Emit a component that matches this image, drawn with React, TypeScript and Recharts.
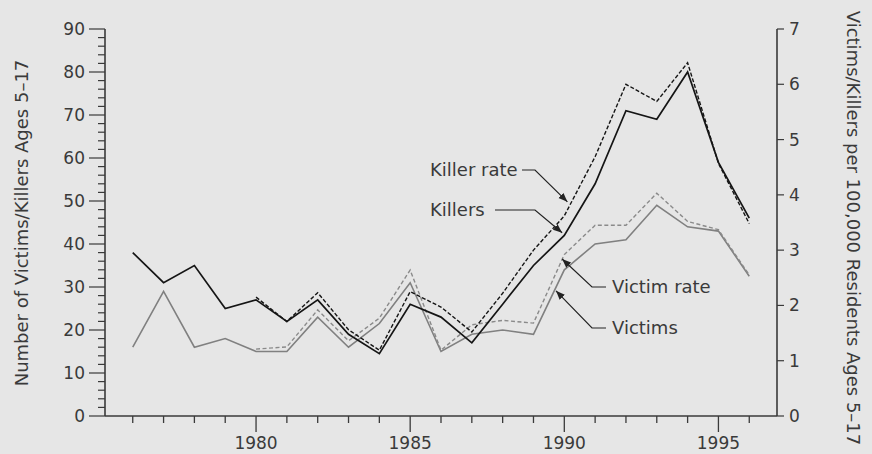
import { LineChart, Line, XAxis, YAxis } from 'recharts';

const years = [
  1976, 1977, 1978, 1979, 1980, 1981, 1982, 1983, 1984, 1985, 1986,
  1987, 1988, 1989, 1990, 1991, 1992, 1993, 1994, 1995, 1996,
];

// counts, left axis
const killers = [38, 31, 35, 25, 27, 22, 27, 19, 14.5, 26, 23, 17, 26, 35, 42, 54, 71, 69, 80, 59, 46];
const victims = [16, 29, 16, 18, 15, 15, 23, 16, 21.5, 31, 15, 19, 20, 19, 34, 40, 41, 49, 44, 43, 32.5];

// rates per 100,000, right axis (series begin in 1980)
const killerRate = [null, null, null, null, 2.15, 1.71, 2.23, 1.56, 1.19, 2.25, 1.97, 1.52, 2.22, 3.0, 3.62, 4.69, 6.0, 5.69, 6.39, 4.57, 3.48];
const victimRate = [null, null, null, null, 1.21, 1.25, 1.92, 1.36, 1.77, 2.64, 1.19, 1.65, 1.73, 1.68, 2.92, 3.45, 3.45, 4.03, 3.52, 3.37, 2.55];

const countTicks = Array.from({ length: 46 }, (_, i) => i * 2);
const rateTicks = [0, 1, 2, 3, 4, 5, 6, 7];

const data = years.map((year, i) => ({
  year,
  killers: killers[i],
  victims: victims[i],
  killerRate: killerRate[i],
  victimRate: victimRate[i],
}));

const W = 872;
const H = 454;
const PLOT = { left: 105, top: 29, width: 672, height: 387 };
const X_DOMAIN: [number, number] = [1975.1, 1996.9];
const FONT = '"DejaVu Sans", sans-serif';
const INK = '#3a3a3a';

const sx = (yr: number) => PLOT.left + ((yr - X_DOMAIN[0]) / (X_DOMAIN[1] - X_DOMAIN[0])) * PLOT.width;
const sy = (v: number) => PLOT.top + (1 - v / 90) * PLOT.height;

const XTick = ({ x, y, payload }: any) => {
  const major = payload.value % 5 === 0;
  return (
    <g>
      <line x1={x} x2={x} y1={y} y2={y + (major ? 16 : 7)} stroke={INK} strokeWidth={1.3} />
      {major && (
        <text x={x} y={y + 33} textAnchor="middle" fontFamily={FONT} fontSize={17} fill={INK}>
          {payload.value}
        </text>
      )}
    </g>
  );
};

const LeftTick = ({ x, y, payload }: any) => {
  const major = payload.value % 10 === 0;
  return (
    <g>
      <line x1={x - (major ? 16 : 7)} x2={x} y1={y} y2={y} stroke={INK} strokeWidth={1.2} />
      {major && (
        <text x={x - 20} y={y + 6} textAnchor="end" fontFamily={FONT} fontSize={17} fill={INK}>
          {payload.value}
        </text>
      )}
    </g>
  );
};

const RightTick = ({ x, y, payload }: any) => (
  <g>
    <line x1={x} x2={x + 7} y1={y} y2={y} stroke={INK} strokeWidth={1.2} />
    <text x={x + 12} y={y + 6} textAnchor="start" fontFamily={FONT} fontSize={17} fill={INK}>
      {payload.value}
    </text>
  </g>
);

// callouts: tip is in data units (year, count), text/elbow in pixels
const notes = [
  { label: 'Killer rate', tip: [1990.1, 49.8], y: 170, textX: 430, from: 522, knee: 535 },
  { label: 'Killers', tip: [1989.93, 42.6], y: 210, textX: 430, from: 495, knee: 535 },
  { label: 'Victim rate', tip: [1989.93, 36.5], y: 287, textX: 612, from: 606, knee: 592 },
  { label: 'Victims', tip: [1989.73, 29.1], y: 328, textX: 612, from: 606, knee: 592 },
];

export default function App() {
  return (
    <div style={{ position: 'absolute', left: 0, top: 0, width: W, height: H, background: '#e6e6e6' }}>
      <LineChart
        width={W}
        height={H}
        data={data}
        margin={{ top: PLOT.top, right: 0, bottom: 0, left: 0 }}
      >
        <XAxis
          dataKey="year"
          type="number"
          domain={X_DOMAIN}
          ticks={years}
          interval={0}
          height={H - PLOT.top - PLOT.height}
          tickSize={0}
          tickMargin={0}
          tick={<XTick />}
          axisLine={{ stroke: INK, strokeWidth: 1.6 }}
          tickLine={false}
        />
        <YAxis
          yAxisId="count"
          orientation="left"
          domain={[0, 90]}
          ticks={countTicks}
          interval={0}
          width={PLOT.left}
          tickSize={0}
          tickMargin={0}
          tick={<LeftTick />}
          axisLine={{ stroke: INK, strokeWidth: 1.6 }}
          tickLine={false}
        />
        <YAxis
          yAxisId="rate"
          orientation="right"
          domain={[0, 7]}
          ticks={rateTicks}
          interval={0}
          width={W - PLOT.left - PLOT.width}
          tickSize={0}
          tickMargin={0}
          tick={<RightTick />}
          axisLine={{ stroke: INK, strokeWidth: 1.6 }}
          tickLine={false}
        />
        <Line yAxisId="count" dataKey="victims" stroke="#808080" strokeWidth={1.6} dot={false} activeDot={false} isAnimationActive={false} />
        <Line yAxisId="rate" dataKey="victimRate" stroke="#8a8a8a" strokeWidth={1.4} strokeDasharray="4 2.5" dot={false} activeDot={false} isAnimationActive={false} />
        <Line yAxisId="count" dataKey="killers" stroke="#151515" strokeWidth={1.7} dot={false} activeDot={false} isAnimationActive={false} />
        <Line yAxisId="rate" dataKey="killerRate" stroke="#151515" strokeWidth={1.4} strokeDasharray="4 2" dot={false} activeDot={false} isAnimationActive={false} />
      </LineChart>

      <svg width={W} height={H} style={{ position: 'absolute', left: 0, top: 0, pointerEvents: 'none' }}>
        <defs>
          <marker id="tip" viewBox="0 0 10 10" refX="10" refY="5" markerWidth="9" markerHeight="9" markerUnits="userSpaceOnUse" orient="auto">
            <path d="M0,1 L10,5 L0,9 z" fill="#222" />
          </marker>
        </defs>
        {notes.map((n) => (
          <g key={n.label}>
            <polyline
              points={`${n.from},${n.y} ${n.knee},${n.y} ${sx(n.tip[0])},${sy(n.tip[1])}`}
              fill="none"
              stroke="#222"
              strokeWidth={1.2}
              markerEnd="url(#tip)"
            />
            <text x={n.textX} y={n.y + 6} fontFamily={FONT} fontSize={18} fill={INK}>
              {n.label}
            </text>
          </g>
        ))}
        <text transform="translate(21,223) rotate(-90)" textAnchor="middle" dominantBaseline="central" fontFamily={FONT} fontSize={18} fill={INK}>
          Number of Victims/Killers Ages 5–17
        </text>
        <text transform="translate(853,228) rotate(90)" textAnchor="middle" dominantBaseline="central" fontFamily={FONT} fontSize={18} fill={INK}>
          Victims/Killers per 100,000 Residents Ages 5–17
        </text>
      </svg>
    </div>
  );
}
